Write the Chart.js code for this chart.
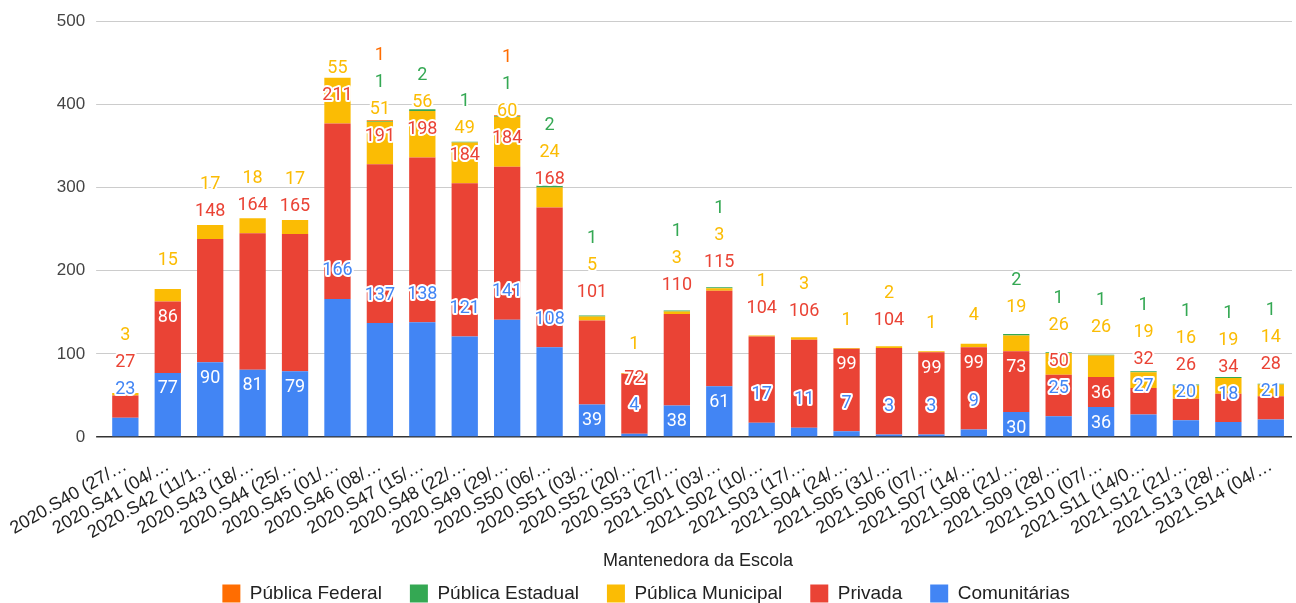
<!DOCTYPE html>
<html lang="pt-BR">
<head>
<meta charset="utf-8">
<title>Mantenedora da Escola</title>
<script src="https://cdn.jsdelivr.net/npm/chart.js@4"></script>
<style>
  body { margin: 0; background: #fff; }
  #caixa { width: 1296px; height: 603px; position: relative; }
</style>
</head>
<body>
<div id="caixa"><canvas id="grafico"></canvas></div>
<script>
// Semanas (rótulos cortados como aparecem no gráfico)
const semanas = [
  '2020.S40 (27/…', '2020.S41 (04/…', '2020.S42 (11/1…', '2020.S43 (18/…', '2020.S44 (25/…',
  '2020.S45 (01/…', '2020.S46 (08/…', '2020.S47 (15/…', '2020.S48 (22/…', '2020.S49 (29/…',
  '2020.S50 (06/…', '2020.S51 (03/…', '2020.S52 (20/…', '2020.S53 (27/…', '2021.S01 (03/…',
  '2021.S02 (10/…', '2021.S03 (17/…', '2021.S04 (24/…', '2021.S05 (31/…', '2021.S06 (07/…',
  '2021.S07 (14/…', '2021.S08 (21/…', '2021.S09 (28/…', '2021.S10 (07/…', '2021.S11 (14/0…',
  '2021.S12 (21/…', '2021.S13 (28/…', '2021.S14 (04/…'
];

// Valores por mantenedora
const comunitarias = [23, 77, 90, 81, 79, 166, 137, 138, 121, 141, 108, 39, 4, 38, 61, 17, 11, 7, 3, 3, 9, 30, 25, 36, 27, 20, 18, 21];
const privada = [27, 86, 148, 164, 165, 211, 191, 198, 184, 184, 168, 101, 72, 110, 115, 104, 106, 99, 104, 99, 99, 73, 50, 36, 32, 26, 34, 28];
const municipal = [3, 15, 17, 18, 17, 55, 51, 56, 49, 60, 24, 5, 1, 3, 3, 1, 3, 1, 2, 1, 4, 19, 26, 26, 19, 16, 19, 14];
const estadual = [0, 0, 0, 0, 0, 0, 1, 2, 1, 1, 2, 1, 0, 1, 1, 0, 0, 0, 0, 0, 0, 2, 1, 1, 1, 1, 1, 1];
const federal = [0, 0, 0, 0, 0, 0, 1, 0, 0, 1, 0, 0, 0, 0, 0, 0, 0, 0, 0, 0, 0, 0, 0, 0, 0, 0, 0, 0];

const marcasY = [0, 100, 200, 300, 400, 500];

Chart.defaults.font.family = "'Liberation Sans', Arial, sans-serif";

// Rótulos de valor no estilo das planilhas: dentro da barra se couber, senão acima
const rotulos = {
  id: 'rotulos',
  afterDatasetsDraw(chart) {
    const ctx = chart.ctx;
    ctx.save();
    ctx.font = '18px Roboto';
    ctx.textAlign = 'center';
    ctx.textBaseline = 'middle';
    ctx.lineJoin = 'round';

    chart.data.labels.forEach((_, i) => {
      let limite = Infinity;
      chart.data.datasets.forEach((ds, d) => {
        const valor = ds.data[i];
        if (!valor) return;
        const barra = chart.getDatasetMeta(d).data[i];
        const altura = barra.base - barra.y;
        const largura = ctx.measureText(String(valor)).width;
        const cabe = largura <= barra.width - 4 && altura >= 24;

        let y = cabe ? barra.y + 16 : barra.y - 28;
        y = Math.min(y, limite - 27);
        limite = y;

        if (cabe && y - 8 >= barra.y) {
          ctx.fillStyle = '#fff';
          ctx.fillText(valor, barra.x, y);
        } else {
          ctx.strokeStyle = '#fff';
          ctx.lineWidth = 4;
          ctx.strokeText(valor, barra.x, y);
          ctx.fillStyle = ds.backgroundColor;
          ctx.fillText(valor, barra.x, y);
        }
      });
    });
    ctx.restore();
  }
};

const ctx = document.getElementById('grafico').getContext('2d');

new Chart(ctx, {
  type: 'bar',
  data: {
    labels: semanas,
    datasets: [
      { label: 'Comunitárias', data: comunitarias, backgroundColor: '#4285F4' },
      { label: 'Privada', data: privada, backgroundColor: '#EA4335' },
      { label: 'Pública Municipal', data: municipal, backgroundColor: '#FBBC04' },
      { label: 'Pública Estadual', data: estadual, backgroundColor: '#34A853' },
      { label: 'Pública Federal', data: federal, backgroundColor: '#FF6D01' }
    ]
  },
  options: {
    responsive: true,
    maintainAspectRatio: false,
    animation: false,
    datasets: {
      bar: { barPercentage: 0.62, categoryPercentage: 1, borderWidth: 0 }
    },
    layout: { padding: { top: 17, right: 4, left: 0, bottom: 0 } },
    plugins: {
      legend: {
        position: 'bottom',
        reverse: true,
        maxHeight: 47,
        labels: {
          boxWidth: 18,
          boxHeight: 18,
          padding: 28,
          color: '#222',
          font: { size: 19 }
        }
      },
      tooltip: { enabled: false }
    },
    scales: {
      x: {
        stacked: true,
        grid: { display: false },
        border: { display: false },
        ticks: {
          autoSkip: false,
          minRotation: 30,
          maxRotation: 30,
          padding: 10,
          color: '#222',
          font: { size: 18 }
        },
        title: {
          display: true,
          text: 'Mantenedora da Escola',
          color: '#222',
          font: { size: 18 },
          padding: { top: 0, bottom: -16 }
        },
        afterFit: (escala) => { escala.height = 119; }
      },
      y: {
        stacked: true,
        min: 0,
        max: 500,
        afterBuildTicks: (escala) => { escala.ticks = marcasY.map(v => ({ value: v })); },
        grid: {
          color: (c) => c.tick && c.tick.value === 0 ? '#333' : '#ccc',
          lineWidth: (c) => c.tick && c.tick.value === 0 ? 1.5 : 1,
          tickLength: 8
        },
        border: { display: false },
        ticks: {
          padding: 11,
          color: '#444',
          font: { size: 17 }
        },
        afterFit: (escala) => { escala.width = 102; }
      }
    }
  },
  plugins: [rotulos]
});
</script>
</body>
</html>
